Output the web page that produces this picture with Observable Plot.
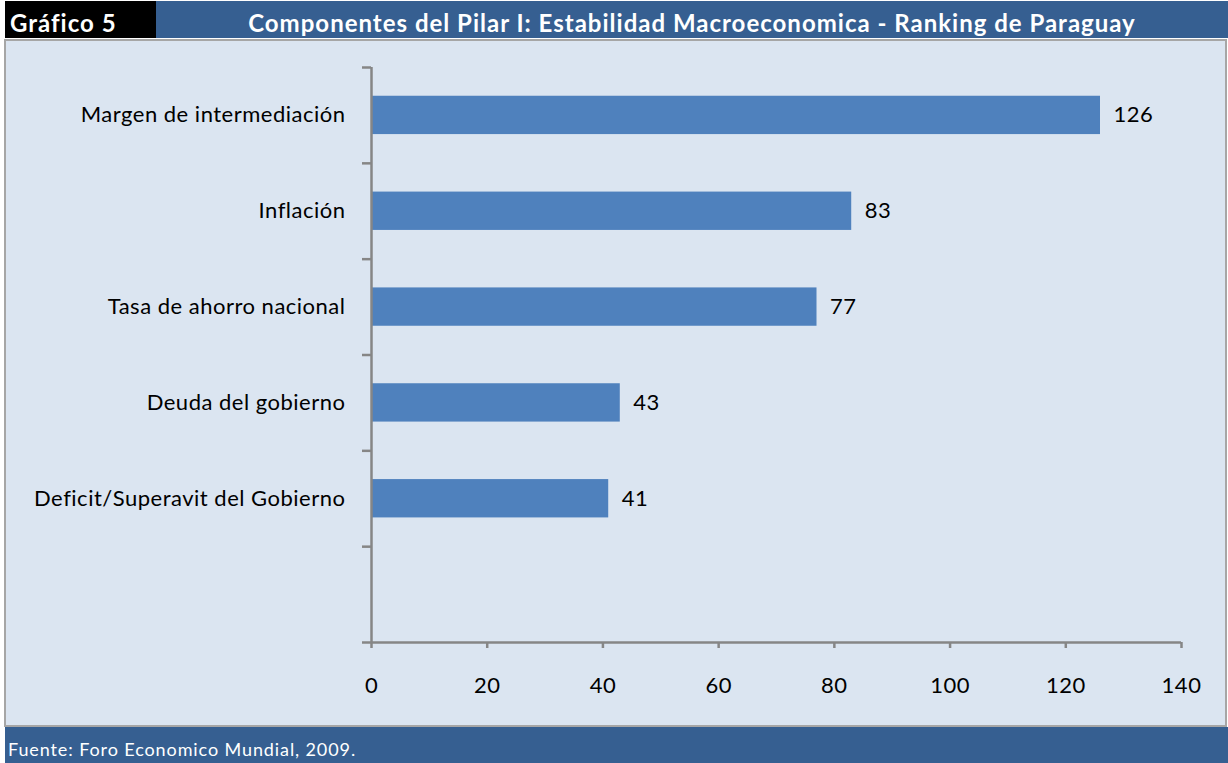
<!DOCTYPE html>
<html>
<head>
<meta charset="utf-8">
<script src="https://cdn.jsdelivr.net/npm/d3@7"></script>
<script src="https://cdn.jsdelivr.net/npm/@observablehq/plot@0.6"></script>
<style>
  html, body { margin: 0; padding: 0; background: #ffffff; }
  #wrap { position: relative; width: 1228px; height: 763px; overflow: hidden; font-family: Lato, "Open Sans", sans-serif; }
  .hdr-black { position: absolute; left: 5px; top: 1px; width: 151px; height: 37px; background: #000; color: #fff; font-weight: bold; font-size: 24px; letter-spacing: 1px; line-height: 44px; padding-left: 5px; box-sizing: border-box; overflow: hidden; }
  .hdr-blue { position: absolute; left: 156px; top: 1px; width: 1072px; height: 37px; background: #365F91; color: #fff; font-weight: bold; font-size: 24px; letter-spacing: 1px; line-height: 44px; text-align: center; overflow: hidden; }
  .panel { position: absolute; left: 4px; top: 39px; width: 1223px; height: 688px; background: #DBE5F1; border: 2px solid #A6A6A6; box-sizing: border-box; }
  .footer { position: absolute; left: 5px; top: 727px; width: 1223px; height: 36px; background: #365F91; color: #fff; font-size: 18px; letter-spacing: 0.9px; line-height: 44px; padding-left: 3px; box-sizing: border-box; overflow: hidden; }
  #chart { position: absolute; left: 5px; top: 40px; }
  #chart text { letter-spacing: 0.5px; }
</style>
</head>
<body>
<div id="wrap">
  <div class="panel"></div>
  <div class="hdr-black">Gráfico 5</div>
  <div class="hdr-blue">Componentes del Pilar I: Estabilidad Macroeconomica - Ranking de Paraguay</div>
  <div id="chart"></div>
  <div class="footer">Fuente: Foro Economico Mundial, 2009.</div>
</div>
<script>
const categories = [
  "Margen de intermediación",
  "Inflación",
  "Tasa de ahorro nacional",
  "Deuda del gobierno",
  "Deficit/Superavit del Gobierno"
];
const ranks = [126, 83, 77, 43, 41];
const xTicks = [0, 20, 40, 60, 80, 100, 120, 140];
const slotCount = 6; // 5 categories + one empty slot at the bottom

const data = categories.map((c, i) => ({category: c, rank: ranks[i], i}));
const axisGray = "#868686";

const chart = Plot.plot({
  width: 1221,
  height: 686,
  marginLeft: 366,
  marginRight: 45,
  marginTop: 27,
  marginBottom: 84,
  style: {background: "transparent", fontFamily: "Lato, 'Open Sans', sans-serif", fontSize: "22px", color: "#000"},
  x: {domain: [0, 140], label: null},
  y: {domain: [0, slotCount], reverse: true, label: null},
  marks: [
    Plot.rectX(data, {x: "rank", y1: d => d.i + 0.3, y2: d => d.i + 0.7, fill: "#4F81BD"}),
    Plot.text(data, {x: "rank", y: d => d.i + 0.5, text: d => String(d.rank), dx: 13, textAnchor: "start", fontSize: 22, fill: "#000"}),
    Plot.ruleX([0], {y1: 0, y2: slotCount, stroke: axisGray, strokeWidth: 2.5}),
    Plot.ruleY([slotCount], {x1: 0, x2: 140, stroke: axisGray, strokeWidth: 2.5}),
    Plot.axisY(d3.range(0, slotCount + 1), {tickSize: 9, tickFormat: () => "", label: null, stroke: axisGray, strokeWidth: 2.5}),
    Plot.axisY(categories.map((c, i) => i + 0.5), {tickSize: 0, tickPadding: 26, label: null, tickFormat: v => categories[Math.floor(v)], fontSize: 22, fill: "#000"}),
    Plot.axisX(xTicks, {tickSize: 6, tickPadding: 29, label: null, stroke: axisGray, strokeWidth: 2.5, fontSize: 22, fill: "#000"})
  ]
});
document.getElementById("chart").appendChild(chart);
</script>
</body>
</html>
